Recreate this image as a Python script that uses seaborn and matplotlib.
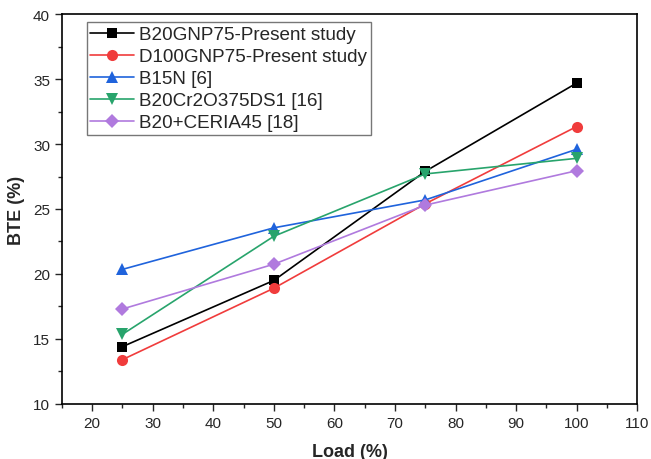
import matplotlib
matplotlib.use("Agg")
import matplotlib.pyplot as plt
from matplotlib.ticker import MultipleLocator
import seaborn as sns
import pandas as pd

# Load points and BTE values
load = [25, 50, 75, 100]
b20gnp75 = [14.4, 19.5, 27.9, 34.7]
d100gnp75 = [13.4, 18.9, 25.4, 31.35]
b15n = [20.35, 23.55, 25.7, 29.6]
b20cr2o3 = [15.35, 22.9, 27.7, 28.9]
b20ceria = [17.3, 20.75, 25.3, 27.95]

series_names = [
    "B20GNP75-Present study",
    "D100GNP75-Present study",
    "B15N [6]",
    "B20Cr2O375DS1 [16]",
    "B20+CERIA45 [18]",
]
series_values = [b20gnp75, d100gnp75, b15n, b20cr2o3, b20ceria]
colors = ["#000000", "#F03C3C", "#1F63DC", "#28A46C", "#B07ADE"]
markers = ["s", "o", "^", "v", "D"]
marker_sizes = [7.5, 8, 8, 8, 7]

rows = []
for name, vals in zip(series_names, series_values):
    for x, y in zip(load, vals):
        rows.append({"Load": x, "BTE": y, "Series": name})
df = pd.DataFrame(rows)

sns.set_style("white")
plt.rcParams["font.family"] = ["Liberation Sans", "DejaVu Sans"]

fig = plt.figure(figsize=(6.51, 4.60), dpi=100)
ax = fig.add_axes([0.095, 0.12, 0.884, 0.847])

for name, c, m, ms in zip(series_names, colors, markers, marker_sizes):
    sub = df[df["Series"] == name]
    sns.lineplot(data=sub, x="Load", y="BTE", ax=ax, color=c, marker=m,
                 markersize=ms, markeredgewidth=0, linewidth=1.2, label=name)

ax.set_xlim(15, 110)
ax.set_ylim(10, 40)
ax.xaxis.set_major_locator(MultipleLocator(10))
ax.xaxis.set_minor_locator(MultipleLocator(5))
ax.yaxis.set_major_locator(MultipleLocator(5))
ax.yaxis.set_minor_locator(MultipleLocator(2.5))
ax.tick_params(axis="both", which="major", direction="out", length=5, width=1,
               labelsize=11, bottom=True, left=True, top=False, right=False)
ax.tick_params(axis="both", which="minor", direction="out", length=3, width=1,
               bottom=True, left=True, top=False, right=False)
for sp in ax.spines.values():
    sp.set_color("black")
    sp.set_linewidth(1.2)

ax.set_xlabel("Load (%)", fontsize=13, fontweight="bold", labelpad=10)
ax.set_ylabel("BTE (%)", fontsize=13, fontweight="bold", labelpad=6)

leg = ax.legend(loc="upper left", bbox_to_anchor=(0.043, 0.979), fontsize=13.6,
                frameon=True, fancybox=False, edgecolor="#555555",
                handlelength=2.3, handletextpad=0.3, labelspacing=0.25,
                borderpad=0.2, borderaxespad=0)
leg.get_frame().set_linewidth(1.0)

fig.savefig("out.png", dpi=100)
